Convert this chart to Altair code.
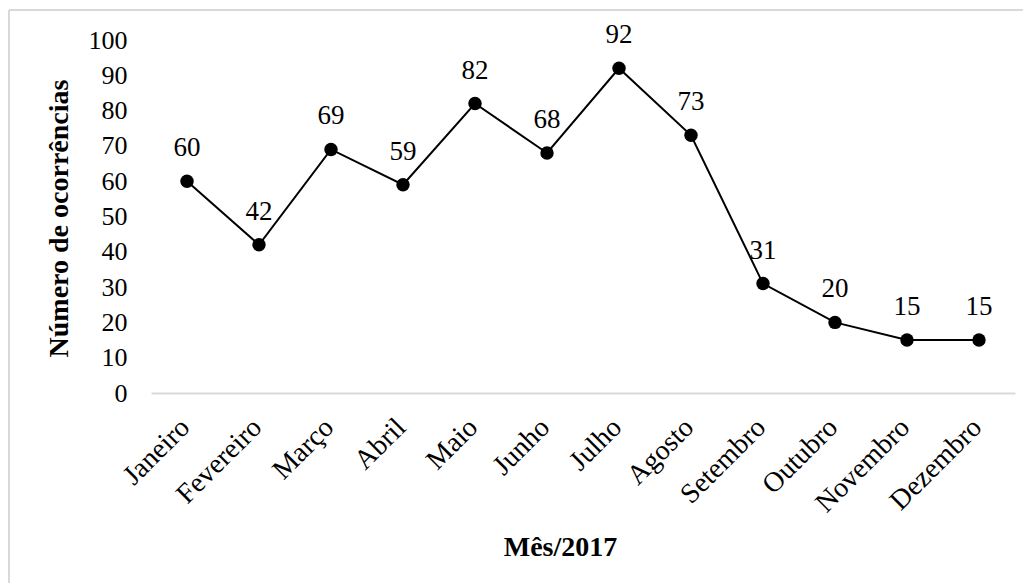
import altair as alt
import pandas as pd

months = ["Janeiro", "Fevereiro", "Março", "Abril", "Maio", "Junho",
          "Julho", "Agosto", "Setembro", "Outubro", "Novembro", "Dezembro"]
values = [60, 42, 69, 59, 82, 68, 92, 73, 31, 20, 15, 15]
y_ticks = [0, 10, 20, 30, 40, 50, 60, 70, 80, 90, 100]

df = pd.DataFrame({"mes": months, "n": values})
FONT = "Liberation Serif, Times New Roman, serif"

x = alt.X("mes:N", sort=months, scale=alt.Scale(padding=0.5),
          axis=alt.Axis(title="Mês/2017", labelAngle=-45, labelAlign="right",
                        labelBaseline="middle", labelPadding=30, labelOffset=-2,
                        ticks=False, domainColor="#d9d9d9", domainWidth=2,
                        labelFont=FONT, labelFontSize=28, labelColor="black",
                        titleFont=FONT, titleFontSize=28, titleFontWeight="bold",
                        titleColor="black", titleX=409, titleY=154,
                        titleBaseline="middle", titleAlign="center"))
y = alt.Y("n:Q", scale=alt.Scale(domain=[0, 100]),
          axis=alt.Axis(title="Número de ocorrências", values=y_ticks, grid=False,
                        domain=False, ticks=False, labelPadding=24,
                        labelFont=FONT, labelFontSize=26, labelColor="black",
                        titleFont=FONT, titleFontSize=28, titleFontWeight="bold",
                        titleColor="black", titleX=-92, titleY=178,
                        titleAngle=-90, titleBaseline="middle", titleAlign="center"))

base = alt.Chart(df)
line = base.mark_line(color="black", strokeWidth=2).encode(x=x, y=y)
pts = base.mark_point(filled=True, color="black", opacity=1, size=180, shape="circle").encode(x=x, y=y)
labels = base.mark_text(font=FONT, fontSize=27, color="black", baseline="alphabetic",
                        dy=-25).encode(x=x, y=y, text="n:Q")

frame_top = alt.Chart(df).mark_rule(color="#d9d9d9", strokeWidth=2, clip=False).encode(
    x=alt.value(-142), x2=alt.value(900), y=alt.value(-30))
frame_left = alt.Chart(df).mark_rule(color="#d9d9d9", strokeWidth=2, clip=False).encode(
    x=alt.value(-142), y=alt.value(-30), y2=alt.value(560))

chart = alt.layer(frame_top, frame_left, line, pts, labels).properties(
    width=864, height=353,
    autosize=alt.AutoSizeParams(type="none"),
    padding={"left": 143, "top": 32, "right": 8, "bottom": 190},
    background="white",
).configure_view(stroke=None)

chart.save("out.html", embed_options={"renderer": "svg", "actions": False})
